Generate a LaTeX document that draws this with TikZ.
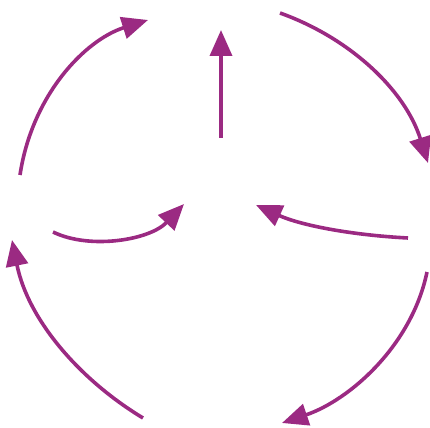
\documentclass[tikz,border=0pt]{standalone}
\usetikzlibrary{arrows.meta}
\definecolor{cycpurple}{RGB}{155,42,130}
\begin{document}
\begin{tikzpicture}[x=0.5pt, y=-0.5pt,
    flow/.style={draw=cycpurple, line width=1.8pt, -{Triangle[length=13pt, width=11pt]}, cycpurple}]
    \path[use as bounding box] (0,0) rectangle (430,428);
    \coordinate (a1) at (20,175);   \coordinate (a2) at (148,20);
    \coordinate (b1) at (221,138);  \coordinate (b2) at (221,30);
    \coordinate (c1) at (280,13);   \coordinate (c2) at (428,163);
    \coordinate (d1) at (53,232);   \coordinate (d2) at (184,204);
    \coordinate (e1) at (408,238);  \coordinate (e2) at (256,205);
    \coordinate (f1) at (427,272);  \coordinate (f2) at (282,423);
    \coordinate (g1) at (143,418);  \coordinate (g2) at (12,240);

    % outer ring
    \draw[flow] (a1) .. controls (32,95) and (85,40) .. (a2);
    \draw[flow] (c1) .. controls (350,38) and (405,90) .. (c2);
    \draw[flow] (f1) .. controls (412,345) and (350,400) .. (f2);
    \draw[flow] (g1) .. controls (80,380) and (28,320) .. (g2);
    % inner arrows
    \draw[flow] (b1) -- (b2);
    \draw[flow] (d1) .. controls (90,250) and (150,240) .. (d2);
    \draw[flow] (e1) .. controls (350,235) and (300,225) .. (e2);
\end{tikzpicture}
\end{document}
